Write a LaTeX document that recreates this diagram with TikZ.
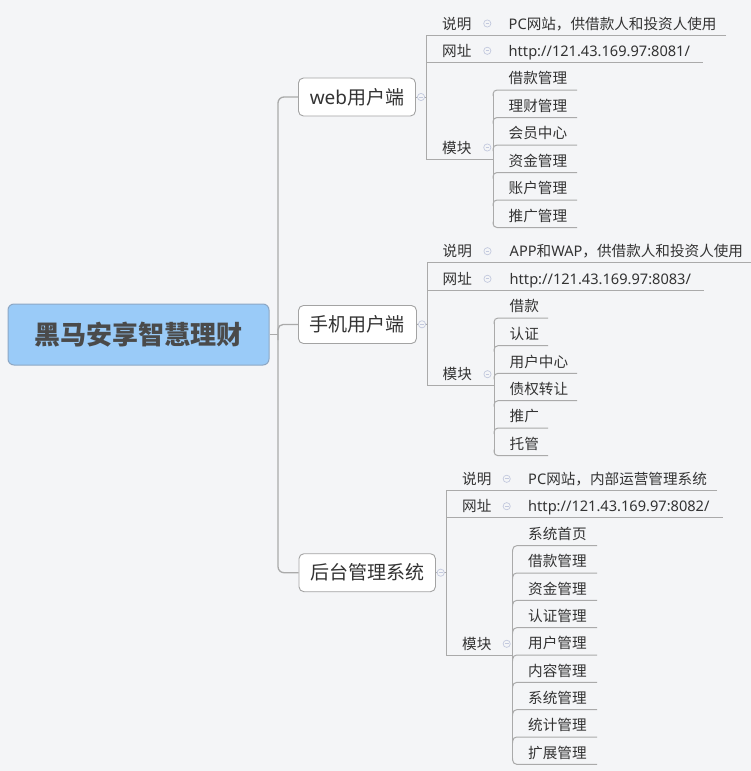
\documentclass[tikz,border=0pt]{standalone}
\usepackage{fontspec}
\setmainfont{Noto Sans CJK SC}
\newfontfamily\lat{Noto Sans}
\definecolor{bgc}{HTML}{F4F5F7}
\definecolor{linec}{HTML}{AAAAAA}
\definecolor{txt}{HTML}{333333}
\definecolor{rootfill}{HTML}{9ACBF8}
\definecolor{rootdraw}{HTML}{8DA7C4}
\definecolor{nodedraw}{HTML}{A3A3A3}
\definecolor{collc}{HTML}{C3C9DE}
\definecolor{roottxt}{HTML}{4A4A4A}
\begin{document}
\begin{tikzpicture}[x=1pt,y=-1pt,
  conn/.style={draw=linec,line width=1pt},
  mainconn/.style={draw=linec,line width=1.3pt},
  lbl/.style={inner sep=0pt,anchor=west,text=txt,font=\fontsize{14.6}{18}\selectfont,text height=12.85pt,text depth=1.75pt},
  branch/.style={draw=nodedraw,fill=white,rounded corners=5pt,line width=0.9pt,minimum height=38pt,inner sep=0pt,anchor=west,text=txt,font=\fontsize{19}{22}\selectfont,text height=16.72pt,text depth=2.28pt},
  rootbox/.style={draw=rootdraw,fill=rootfill,rounded corners=6pt,line width=1pt,minimum width=261pt,minimum height=61pt,inner sep=0pt,text=roottxt,font=\fontsize{26}{30}\selectfont\bfseries,text height=22.88pt,text depth=3.12pt},
  cmark/.pic={\draw[draw=collc,fill=bgc,line width=0.7pt] (0,0) circle[radius=3.6pt]; \draw[collc,line width=0.7pt] (-1.8,0) -- (1.8,0);}
]
\fill[bgc] (0,0) rectangle (751,771);
\useasboundingbox (0,0) rectangle (751,771);

% ---------- nodes ----------
\node[rootbox] (root) at (138.5,334.5) {黑马安享智慧理财};
\node[branch,minimum width=117pt] (web) at (298,97) {{\lat web}用户端};
\node[branch,minimum width=118pt] (mob) at (298,324.5) {手机用户端};
\node[branch,minimum width=136.5pt] (adm) at (298.5,572.7) {后台管理系统};

% ---------- main connectors ----------
\draw[mainconn,rounded corners=6pt] (web.west) -- (278,97) -- (278,572.7) -- (adm.west);
\draw[mainconn,rounded corners=5pt] (278,340) |- (mob.west);
\draw[mainconn] (root.east) -- (278,334.5);

% ---------- web ----------
\draw[conn] (web.east) -- (426,97);
\draw[conn] (726,35) -- (426,35) -- (426,159) -- (493,159);
\draw[conn] (426,62.3) -- (703,62.3);
\node[lbl] (wsm) at (442,23.5) {说明};
\node[lbl] (wsmv) at (508.5,23.5) {{\lat PC}网站，供借款人和投资人使用};
\node[lbl] (wwz) at (442,50.8) {网址};
\node[lbl] (wwzv) at (508.5,50.8) {\lat http://121.43.169.97:8081/};
\node[lbl] (wmk) at (442,147.5) {模块};
\draw[conn] (493,94) -- (493,223.5);
\foreach \y/\t [count=\i] in {90/借款管理,117.5/理财管理,145/会员中心,172.5/资金管理,200/账户管理}{
  \draw[conn,rounded corners=4pt] (493,\y+6) |- (577,\y);
  \node[lbl] (wc\i) at (508.5,\y-11.7) {\t};
}
\draw[conn,rounded corners=4pt] (493,221.5) |- (577,227.5);
\node[lbl] (wc6) at (508.5,215.8) {推广管理};
\pic at (421,97) {cmark};
\pic at (487.3,23.5) {cmark};
\pic at (487.3,50.8) {cmark};
\pic at (487.3,147.5) {cmark};

% ---------- mobile ----------
\draw[conn] (mob.east) -- (427,324.3);
\draw[conn] (751,262.7) -- (427,262.7) -- (427,385.7) -- (494,385.7);
\draw[conn] (427,290.3) -- (704,290.3);
\node[lbl] (msm) at (442.5,251.2) {说明};
\node[lbl] (msmv) at (509.5,251.2) {{\lat APP}和{\lat WAP}，供借款人和投资人使用};
\node[lbl] (mwz) at (442.5,278.8) {网址};
\node[lbl] (mwzv) at (509.5,278.8) {\lat http://121.43.169.97:8083/};
\node[lbl] (mmk) at (442.5,374.2) {模块};
\draw[conn] (494,322) -- (494,451.7);
\foreach \y/\r/\t [count=\i] in {318/548/借款,345.7/548/认证,373.3/577/用户中心,400.7/577/债权转让,428/548/推广}{
  \draw[conn,rounded corners=4pt] (494,\y+6) |- (\r,\y);
  \node[lbl] (mc\i) at (509.5,\y-11.7) {\t};
}
\draw[conn,rounded corners=4pt] (494,449.7) |- (548,455.7);
\node[lbl] (mc6) at (509.5,444) {托管};
\pic at (422,324.3) {cmark};
\pic at (487.5,251.2) {cmark};
\pic at (487.5,278.8) {cmark};
\pic at (487.5,374.2) {cmark};

% ---------- admin ----------
\draw[conn] (adm.east) -- (446,572.7);
\draw[conn] (717,490.3) -- (446,490.3) -- (446,655.3) -- (512.7,655.3);
\draw[conn] (446,517.7) -- (723,517.7);
\node[lbl] (asm) at (462,478.8) {说明};
\node[lbl] (asmv) at (528,478.8) {{\lat PC}网站，内部运营管理系统};
\node[lbl] (awz) at (462,506.2) {网址};
\node[lbl] (awzv) at (528,506.2) {\lat http://121.43.169.97:8082/};
\node[lbl] (amk) at (462,643.8) {模块};
\draw[conn] (512.7,549.7) -- (512.7,760.3);
\foreach \y/\t [count=\i] in {545.7/系统首页,573.0/借款管理,600.4/资金管理,627.7/认证管理,655.0/用户管理,682.4/内容管理,709.7/系统管理,737.0/统计管理}{
  \draw[conn,rounded corners=4pt] (512.7,\y+6) |- (597,\y);
  \node[lbl] (ac\i) at (528,\y-11.7) {\t};
}
\draw[conn,rounded corners=4pt] (512.7,758.3) |- (597,764.3);
\node[lbl] (ac9) at (528,752.6) {扩展管理};
\pic at (440.7,572.7) {cmark};
\pic at (506.7,478.8) {cmark};
\pic at (506.7,506.2) {cmark};
\pic at (506.7,643.8) {cmark};
\end{tikzpicture}
\end{document}
